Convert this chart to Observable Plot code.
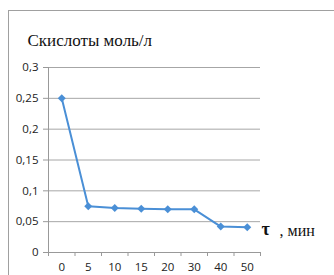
<!DOCTYPE html>
<html><head><meta charset="utf-8">
<script src="https://cdn.jsdelivr.net/npm/d3@7"></script>
<script src="https://cdn.jsdelivr.net/npm/@observablehq/plot@0.6"></script>
<style>
body{margin:0;background:#fff;}
#wrap{position:relative;width:334px;height:275px;overflow:hidden;}
#frame{position:absolute;left:8px;top:10px;width:340px;height:280px;border-top:1.5px solid #a0a0a0;border-left:1.5px solid #a0a0a0;box-sizing:border-box;}
#chart{position:absolute;left:0;top:0;}
</style></head>
<body><div id="wrap"><div id="frame"></div><div id="chart"></div></div>
<script>
const times = ["0","5","10","15","20","30","40","50"];
const acid = [0.25,0.075,0.072,0.071,0.070,0.070,0.042,0.041];
const yTicks = [0,0.05,0.1,0.15,0.2,0.25,0.3];
const title = "Скислоты моль/л";
const xUnit = ", мин";
const xSym = "τ";

const data = times.map((t,i)=>({i, t, v: acid[i]}));
const bounds = d3.range(times.length+1).map(k=>k-0.5);
const fmt = d => String(d).replace(".", ",");

const plot = Plot.plot({
  width: 334, height: 275,
  marginLeft: 48, marginRight: 74, marginTop: 67, marginBottom: 23,
  style: {fontFamily: "'Open Sans', sans-serif", fontSize: "11.5px", color: "#222", overflow: "visible"},
  x: {type: "linear", domain: [-0.5, times.length-0.5]},
  y: {domain: [0, 0.3]},
  marks: [
    Plot.gridY(yTicks, {stroke: "#a6a6a6", strokeOpacity: 1, strokeWidth: 1, x1: -0.5, x2: times.length-0.5}),
    Plot.axisY({ticks: yTicks, tickFormat: fmt, tickSize: 5, tickPadding: 5, stroke: "#999", label: null, fill: "#222"}),
    Plot.ruleX([-0.5], {y1: 0, y2: 0.3, stroke: "#999"}),
    Plot.ruleY([0], {stroke: "#999"}),
    Plot.axisX({ticks: bounds, tickSize: 4, tickFormat: () => "", stroke: "#999", label: null}),
    Plot.axisX({ticks: d3.range(times.length), tickSize: 0, tickPadding: 10, tickFormat: i => times[i], label: null, fill: "#222"}),
    Plot.line(data, {x: "i", y: "v", stroke: "#4a8fd6", strokeWidth: 2}),
    Plot.dot(data, {x: "i", y: "v", symbol: "diamond2", r: 3.6, fill: "#4a8fd6", stroke: "none"}),
    Plot.text([title], {frameAnchor: "top-left", dx: -21, dy: -34, text: d => d, textAnchor: "start", fontFamily: "'Liberation Serif', serif", fontSize: 17, fill: "#111"}),
    Plot.text([xSym], {frameAnchor: "bottom-right", dx: 1, dy: -18, text: d => d, textAnchor: "start", fontFamily: "'Liberation Serif', serif", fontSize: 18, fontWeight: "bold", fill: "#111"}),
    Plot.text([xUnit], {frameAnchor: "bottom-right", dx: 19, dy: -17, text: d => d, textAnchor: "start", fontFamily: "'Liberation Serif', serif", fontSize: 16, fill: "#111"})
  ]
});
document.getElementById("chart").appendChild(plot);
</script></body></html>
